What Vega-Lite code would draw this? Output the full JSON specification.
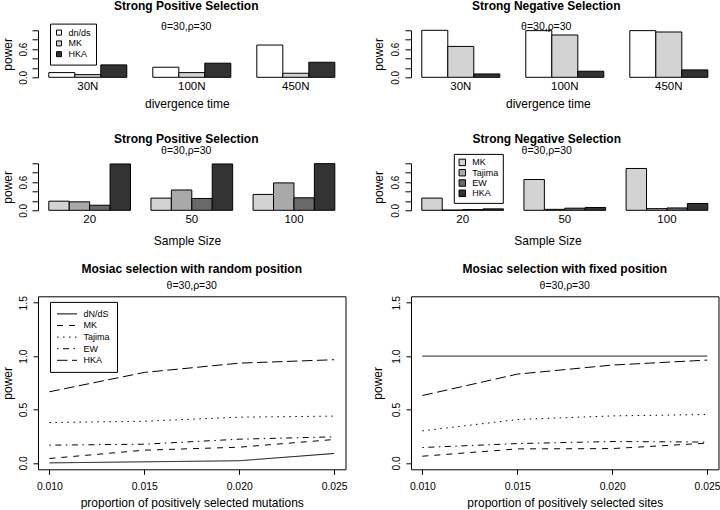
{
  "$schema": "https://vega.github.io/schema/vega-lite/v6.json",
  "background": "white",
  "padding": {"left": 0, "top": -0.7, "right": 0, "bottom": 0},
  "config": {
    "font": "Liberation Sans",
    "view": {"stroke": null},
    "axis": {"labelColor": "black", "titleColor": "black", "domainColor": "black", "tickColor": "black", "grid": false, "titleFontWeight": "normal", "labelOverlap": false, "labelFlush": false},
    "title": {"fontSize": 12, "fontWeight": "bold", "subtitleFontSize": 10.5, "color": "black", "subtitleColor": "black", "frame": "group", "anchor": "middle"},
    "legend": {"labelColor": "black", "strokeColor": "black", "fillColor": "white", "symbolStrokeColor": "black", "symbolStrokeWidth": 1, "labelFontSize": 9, "title": null}
  },
  "datasets": {
    "div_pos": [
      {"time": "30N", "test": "dn/ds", "power": 0.10}, {"time": "30N", "test": "MK", "power": 0.057}, {"time": "30N", "test": "HKA", "power": 0.264},
      {"time": "100N", "test": "dn/ds", "power": 0.214}, {"time": "100N", "test": "MK", "power": 0.10}, {"time": "100N", "test": "HKA", "power": 0.30},
      {"time": "450N", "test": "dn/ds", "power": 0.686}, {"time": "450N", "test": "MK", "power": 0.086}, {"time": "450N", "test": "HKA", "power": 0.32}
    ],
    "div_neg": [
      {"time": "30N", "test": "dn/ds", "power": 1.0}, {"time": "30N", "test": "MK", "power": 0.657}, {"time": "30N", "test": "HKA", "power": 0.071},
      {"time": "100N", "test": "dn/ds", "power": 0.993}, {"time": "100N", "test": "MK", "power": 0.90}, {"time": "100N", "test": "HKA", "power": 0.129},
      {"time": "450N", "test": "dn/ds", "power": 0.993}, {"time": "450N", "test": "MK", "power": 0.964}, {"time": "450N", "test": "HKA", "power": 0.157}
    ],
    "ss_pos": [
      {"size": "20", "test": "MK", "power": 0.194}, {"size": "20", "test": "Tajima", "power": 0.18}, {"size": "20", "test": "EW", "power": 0.108}, {"size": "20", "test": "HKA", "power": 0.986},
      {"size": "50", "test": "MK", "power": 0.259}, {"size": "50", "test": "Tajima", "power": 0.432}, {"size": "50", "test": "EW", "power": 0.252}, {"size": "50", "test": "HKA", "power": 0.986},
      {"size": "100", "test": "MK", "power": 0.338}, {"size": "100", "test": "Tajima", "power": 0.583}, {"size": "100", "test": "EW", "power": 0.266}, {"size": "100", "test": "HKA", "power": 0.993}
    ],
    "ss_neg": [
      {"size": "20", "test": "MK", "power": 0.26}, {"size": "20", "test": "Tajima", "power": 0.005}, {"size": "20", "test": "EW", "power": 0.015}, {"size": "20", "test": "HKA", "power": 0.03},
      {"size": "50", "test": "MK", "power": 0.655}, {"size": "50", "test": "Tajima", "power": 0.02}, {"size": "50", "test": "EW", "power": 0.045}, {"size": "50", "test": "HKA", "power": 0.06},
      {"size": "100", "test": "MK", "power": 0.89}, {"size": "100", "test": "Tajima", "power": 0.035}, {"size": "100", "test": "EW", "power": 0.05}, {"size": "100", "test": "HKA", "power": 0.145}
    ],
    "mosaic_random": [
      {"prop": 0.010, "test": "dN/dS", "power": 0.0}, {"prop": 0.015, "test": "dN/dS", "power": 0.01}, {"prop": 0.020, "test": "dN/dS", "power": 0.02}, {"prop": 0.025, "test": "dN/dS", "power": 0.088},
      {"prop": 0.010, "test": "MK", "power": 0.041}, {"prop": 0.015, "test": "MK", "power": 0.119}, {"prop": 0.020, "test": "MK", "power": 0.147}, {"prop": 0.025, "test": "MK", "power": 0.219},
      {"prop": 0.010, "test": "Tajima", "power": 0.378}, {"prop": 0.015, "test": "Tajima", "power": 0.39}, {"prop": 0.020, "test": "Tajima", "power": 0.428}, {"prop": 0.025, "test": "Tajima", "power": 0.438},
      {"prop": 0.010, "test": "EW", "power": 0.166}, {"prop": 0.015, "test": "EW", "power": 0.175}, {"prop": 0.020, "test": "EW", "power": 0.222}, {"prop": 0.025, "test": "EW", "power": 0.244},
      {"prop": 0.010, "test": "HKA", "power": 0.666}, {"prop": 0.015, "test": "HKA", "power": 0.847}, {"prop": 0.020, "test": "HKA", "power": 0.934}, {"prop": 0.025, "test": "HKA", "power": 0.966}
    ],
    "mosaic_fixed": [
      {"prop": 0.010, "test": "dN/dS", "power": 1.0}, {"prop": 0.015, "test": "dN/dS", "power": 1.0}, {"prop": 0.020, "test": "dN/dS", "power": 1.0}, {"prop": 0.025, "test": "dN/dS", "power": 1.0},
      {"prop": 0.010, "test": "MK", "power": 0.0625}, {"prop": 0.015, "test": "MK", "power": 0.131}, {"prop": 0.020, "test": "MK", "power": 0.134}, {"prop": 0.025, "test": "MK", "power": 0.185},
      {"prop": 0.010, "test": "Tajima", "power": 0.30}, {"prop": 0.015, "test": "Tajima", "power": 0.406}, {"prop": 0.020, "test": "Tajima", "power": 0.44}, {"prop": 0.025, "test": "Tajima", "power": 0.453},
      {"prop": 0.010, "test": "EW", "power": 0.144}, {"prop": 0.015, "test": "EW", "power": 0.181}, {"prop": 0.020, "test": "EW", "power": 0.2}, {"prop": 0.025, "test": "EW", "power": 0.195},
      {"prop": 0.010, "test": "HKA", "power": 0.631}, {"prop": 0.015, "test": "HKA", "power": 0.831}, {"prop": 0.020, "test": "HKA", "power": 0.916}, {"prop": 0.025, "test": "HKA", "power": 0.9625}
    ]
  },
  "columns": 2,
  "spacing": {"row": 86, "column": 64},
  "bounds": "flush",
  "align": "each",
  "resolve": {
    "scale": {"x": "independent", "y": "independent", "xOffset": "independent", "color": "independent", "strokeDash": "independent"},
    "axis": {"x": "independent", "y": "independent"},
    "legend": {"color": "independent", "strokeDash": "independent"}
  },
  "concat": [
    {
      "data": {"name": "div_pos"},
      "width": 308.5, "height": 47,
      "title": {"text": "Strong Positive Selection", "subtitle": "θ=30,ρ=30", "dx": -6, "offset": -10, "subtitlePadding": 8.5},
      "mark": {"type": "bar", "stroke": "black", "strokeWidth": 1},
      "encoding": {
        "x": {"field": "time", "type": "nominal", "scale": {"domain": ["30N", "100N", "450N"], "paddingInner": 0.25, "paddingOuter": 0.108, "align": 0.48},
              "axis": {"title": "divergence time", "labelAngle": 0, "domain": false, "ticks": false, "tickSize": 0, "labelPadding": 3, "labelFontSize": 11.5, "titleFontSize": 12, "titleX": 148.8, "titleY": 26.5, "titleBaseline": "middle", "titleAlign": "center"}},
        "xOffset": {"field": "test", "type": "nominal", "scale": {"domain": ["dn/ds", "MK", "HKA"], "paddingInner": 0, "paddingOuter": 0}},
        "y": {"field": "power", "type": "quantitative", "scale": {"domain": [0, 1], "nice": false},
              "axis": {"title": "power", "values": [0, 0.2, 0.4, 0.6, 0.8, 1], "labelExpr": "datum.value == 0 || datum.value == 0.6 ? format(datum.value, '.1f') : ''", "labelAngle": 270, "labelAlign": "center", "labelBaseline": "bottom", "tickSize": 6, "labelPadding": 4, "labelFontSize": 10, "titleFontSize": 12, "titleX": -31, "titleY": 23.5, "titleAngle": 270, "titleAlign": "center", "titleBaseline": "middle"}},
        "color": {"field": "test", "type": "nominal", "scale": {"domain": ["dn/ds", "MK", "HKA"], "range": ["white", "#d3d3d3", "#333333"]},
                  "legend": {"orient": "none", "legendX": 12, "legendY": -6.7, "symbolType": "square", "symbolSize": 25, "labelOffset": 5, "padding": 4.5, "rowPadding": 0.8}}
      }
    },
    {
      "data": {"name": "div_neg"},
      "width": 308.5, "height": 47,
      "title": {"text": "Strong Negative Selection", "subtitle": "θ=30,ρ=30", "dx": -19, "offset": -3.3, "subtitlePadding": 8.5},
      "mark": {"type": "bar", "stroke": "black", "strokeWidth": 1},
      "encoding": {
        "x": {"field": "time", "type": "nominal", "scale": {"domain": ["30N", "100N", "450N"], "paddingInner": 0.25, "paddingOuter": 0.108, "align": 0.48},
              "axis": {"title": "divergence time", "labelAngle": 0, "domain": false, "ticks": false, "tickSize": 0, "labelPadding": 3, "labelFontSize": 11.5, "titleFontSize": 12, "titleX": 136.8, "titleY": 26.5, "titleBaseline": "middle", "titleAlign": "center"}},
        "xOffset": {"field": "test", "type": "nominal", "scale": {"domain": ["dn/ds", "MK", "HKA"], "paddingInner": 0, "paddingOuter": 0}},
        "y": {"field": "power", "type": "quantitative", "scale": {"domain": [0, 1], "nice": false},
              "axis": {"title": "power", "values": [0, 0.2, 0.4, 0.6, 0.8, 1], "labelExpr": "datum.value == 0 || datum.value == 0.6 ? format(datum.value, '.1f') : ''", "labelAngle": 270, "labelAlign": "center", "labelBaseline": "bottom", "tickSize": 6, "labelPadding": 4, "labelFontSize": 10, "titleFontSize": 12, "titleX": -32, "titleY": 23.5, "titleAngle": 270, "titleAlign": "center", "titleBaseline": "middle"}},
        "color": {"field": "test", "type": "nominal", "scale": {"domain": ["dn/ds", "MK", "HKA"], "range": ["white", "#d3d3d3", "#333333"]}, "legend": null}
      }
    },
    {
      "data": {"name": "ss_pos"},
      "width": 308.5, "height": 47,
      "title": {"text": "Strong Positive Selection", "subtitle": "θ=30,ρ=30", "dx": -6, "offset": 5.5, "subtitlePadding": -0.5},
      "mark": {"type": "bar", "stroke": "black", "strokeWidth": 1},
      "encoding": {
        "x": {"field": "size", "type": "nominal", "scale": {"domain": ["20", "50", "100"], "paddingInner": 0.2, "paddingOuter": 0.11, "align": 0.48},
              "axis": {"title": "Sample Size", "labelAngle": 0, "domain": false, "ticks": false, "tickSize": 0, "labelPadding": 3, "labelFontSize": 11.5, "titleFontSize": 12, "titleX": 149, "titleY": 30, "titleBaseline": "middle", "titleAlign": "center"}},
        "xOffset": {"field": "test", "type": "nominal", "scale": {"domain": ["MK", "Tajima", "EW", "HKA"], "paddingInner": 0, "paddingOuter": 0}},
        "y": {"field": "power", "type": "quantitative", "scale": {"domain": [0, 1], "nice": false},
              "axis": {"title": "power", "values": [0, 0.2, 0.4, 0.6, 0.8, 1], "labelExpr": "datum.value == 0 || datum.value == 0.6 ? format(datum.value, '.1f') : ''", "labelAngle": 270, "labelAlign": "center", "labelBaseline": "bottom", "tickSize": 6, "labelPadding": 4, "labelFontSize": 10, "titleFontSize": 12, "titleX": -31, "titleY": 23.5, "titleAngle": 270, "titleAlign": "center", "titleBaseline": "middle"}},
        "color": {"field": "test", "type": "nominal", "scale": {"domain": ["MK", "Tajima", "EW", "HKA"], "range": ["#d3d3d3", "#a9a9a9", "#696969", "#333333"]}, "legend": null}
      }
    },
    {
      "data": {"name": "ss_neg"},
      "width": 308.5, "height": 47,
      "title": {"text": "Strong Negative Selection", "subtitle": "θ=30,ρ=30", "dx": -18.5, "offset": -3.9, "subtitlePadding": -0.5},
      "mark": {"type": "bar", "stroke": "black", "strokeWidth": 1},
      "encoding": {
        "x": {"field": "size", "type": "nominal", "scale": {"domain": ["20", "50", "100"], "paddingInner": 0.2, "paddingOuter": 0.11, "align": 0.48},
              "axis": {"title": "Sample Size", "labelAngle": 0, "domain": false, "ticks": false, "tickSize": 0, "labelPadding": 3, "labelFontSize": 11.5, "titleFontSize": 12, "titleX": 136.5, "titleY": 30, "titleBaseline": "middle", "titleAlign": "center"}},
        "xOffset": {"field": "test", "type": "nominal", "scale": {"domain": ["MK", "Tajima", "EW", "HKA"], "paddingInner": 0, "paddingOuter": 0}},
        "y": {"field": "power", "type": "quantitative", "scale": {"domain": [0, 1], "nice": false},
              "axis": {"title": "power", "values": [0, 0.2, 0.4, 0.6, 0.8, 1], "labelExpr": "datum.value == 0 || datum.value == 0.6 ? format(datum.value, '.1f') : ''", "labelAngle": 270, "labelAlign": "center", "labelBaseline": "bottom", "tickSize": 6, "labelPadding": 4, "labelFontSize": 10, "titleFontSize": 12, "titleX": -32, "titleY": 23.5, "titleAngle": 270, "titleAlign": "center", "titleBaseline": "middle"}},
        "color": {"field": "test", "type": "nominal", "scale": {"domain": ["MK", "Tajima", "EW", "HKA"], "range": ["#d3d3d3", "#a9a9a9", "#696969", "#333333"]},
                  "legend": {"orient": "none", "legendX": 42.8, "legendY": -9.4, "symbolType": "square", "symbolSize": 42, "labelOffset": 5.5, "padding": 4, "rowPadding": -0.7}}
      }
    },
    {
      "data": {"name": "mosaic_random"},
      "width": 307.5, "height": 173,
      "view": {"stroke": "black", "strokeWidth": 1},
      "title": {"text": "Mosiac selection with random position", "subtitle": "θ=30,ρ=30", "offset": 2.7, "subtitlePadding": 5.7},
      "mark": {"type": "line", "color": "black", "strokeWidth": 1},
      "encoding": {
        "x": {"field": "prop", "type": "quantitative", "scale": {"domain": [0.0094, 0.0256], "nice": false, "zero": false},
              "axis": {"title": "proportion of positively selected mutations", "values": [0.01, 0.015, 0.02, 0.025], "format": ".3f", "domain": false, "tickSize": 5, "labelPadding": 7, "labelFontSize": 10.4, "titleFontSize": 12, "titleY": 33, "titleBaseline": "middle"}},
        "y": {"field": "power", "type": "quantitative", "scale": {"domain": [-0.06, 1.56], "nice": false, "zero": false},
              "axis": {"title": "power", "values": [0, 0.5, 1, 1.5], "format": ".1f", "domain": false, "labelAngle": 270, "labelAlign": "center", "labelBaseline": "bottom", "tickSize": 5, "labelPadding": 4.5, "labelFontSize": 10.4, "titleFontSize": 12, "titleX": -31, "titleY": 86.5, "titleAngle": 270, "titleAlign": "center", "titleBaseline": "middle"}},
        "strokeDash": {"field": "test", "type": "nominal", "scale": {"domain": ["dN/dS", "MK", "Tajima", "EW", "HKA"], "range": [[1, 0], [6, 6], [1.5, 4.5], [1.5, 4.5, 6, 4.5], [10.5, 4.5]]},
                       "legend": {"orient": "none", "legendX": 12, "legendY": 5.6, "symbolType": "M-1,0H3", "symbolSize": 100, "labelOffset": 16, "padding": 6.5, "rowPadding": 0.6}}
      }
    },
    {
      "data": {"name": "mosaic_fixed"},
      "width": 307.5, "height": 173,
      "view": {"stroke": "black", "strokeWidth": 1},
      "title": {"text": "Mosiac selection with fixed position", "subtitle": "θ=30,ρ=30", "offset": 2.7, "subtitlePadding": 5.7},
      "mark": {"type": "line", "color": "black", "strokeWidth": 1},
      "encoding": {
        "x": {"field": "prop", "type": "quantitative", "scale": {"domain": [0.0094, 0.0256], "nice": false, "zero": false},
              "axis": {"title": "proportion of positively selected sites", "values": [0.01, 0.015, 0.02, 0.025], "format": ".3f", "domain": false, "tickSize": 5, "labelPadding": 7, "labelFontSize": 10.4, "titleFontSize": 12, "titleY": 33, "titleBaseline": "middle"}},
        "y": {"field": "power", "type": "quantitative", "scale": {"domain": [-0.06, 1.56], "nice": false, "zero": false},
              "axis": {"title": "power", "values": [0, 0.5, 1, 1.5], "format": ".1f", "domain": false, "labelAngle": 270, "labelAlign": "center", "labelBaseline": "bottom", "tickSize": 5, "labelPadding": 4.5, "labelFontSize": 10.4, "titleFontSize": 12, "titleX": -33, "titleY": 86.5, "titleAngle": 270, "titleAlign": "center", "titleBaseline": "middle"}},
        "strokeDash": {"field": "test", "type": "nominal", "scale": {"domain": ["dN/dS", "MK", "Tajima", "EW", "HKA"], "range": [[1, 0], [6, 6], [1.5, 4.5], [1.5, 4.5, 6, 4.5], [10.5, 4.5]]}, "legend": null}
      }
    }
  ]
}
